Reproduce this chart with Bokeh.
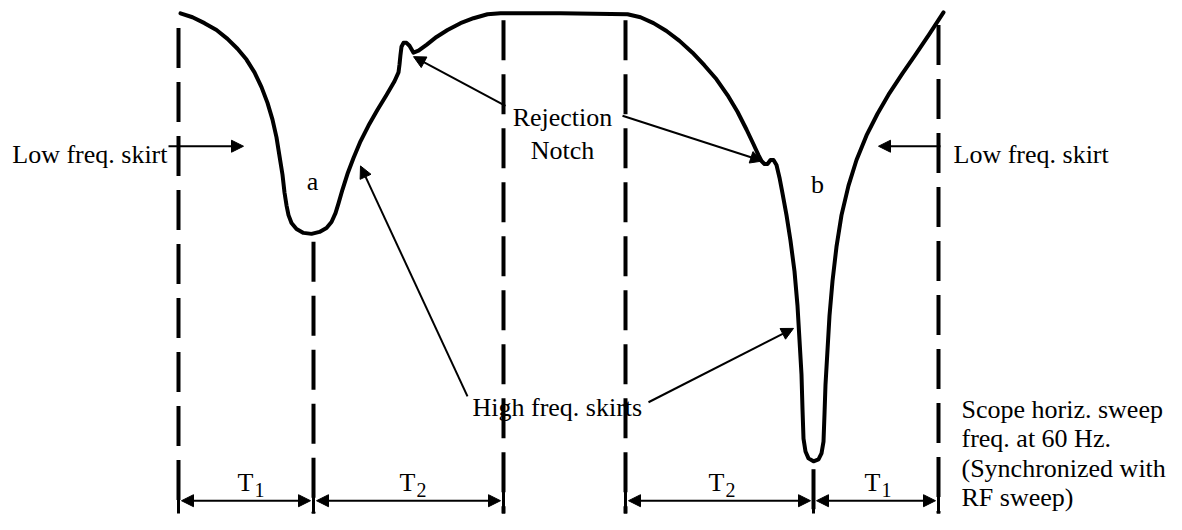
from bokeh.plotting import figure
from bokeh.models import Range1d, Arrow, NormalHead
from bokeh.core.properties import value
from bokeh.embed import file_html
from bokeh.resources import INLINE

# ---- data (screen-pixel frame of the reference) ----
curve_x = [180, 192, 204, 216, 227, 237, 246, 254, 261, 267, 272, 276, 279, 282, 284, 286,
           288, 291, 296, 303, 311, 319, 326, 331, 335, 338, 342, 347, 353, 360, 368, 377,
           386, 394, 398, 399, 400, 401, 403, 406, 409, 413, 418, 426, 436, 447, 460, 473,
           487, 500, 560, 627, 640, 653, 666, 679, 692, 704, 716, 727, 737, 746, 753, 758,
           761, 764, 767, 770, 773, 776, 779, 782, 786, 790, 794, 797, 799, 801, 802, 803,
           805, 808, 813, 818, 821, 823, 824, 825, 827, 829, 832, 836, 841, 848, 856, 866,
           877, 889, 902, 915, 929, 943]
curve_y = [13, 17, 23, 30, 39, 49, 60, 73, 88, 104, 121, 139, 158, 177, 195, 208,
           218, 226, 232, 236, 237, 235, 231, 225, 216, 206, 192, 176, 160, 143, 127, 111,
           96, 82, 73, 65, 55, 47, 43, 43, 46, 53, 51, 45, 37, 30, 23, 18,
           14, 13, 13, 14, 17, 23, 31, 41, 53, 66, 80, 96, 113, 131, 146, 157,
           163, 166, 166, 162, 162, 167, 180, 196, 218, 244, 275, 310, 345, 380, 415, 445,
           458, 465, 468, 466, 460, 448, 420, 390, 355, 320, 285, 250, 218, 188, 162, 137,
           115, 94, 74, 55, 34, 12]

boundaries = [178, 313, 503, 625, 813, 938]
intervals = [(0, 1), (1, 2), (3, 4), (4, 5)]
interval_main = ["T", "T", "T", "T"]
interval_sub = ["1", "2", "2", "1"]
dip_labels = ["a", "b"]
scope_lines = ["Scope horiz. sweep", "freq. at 60 Hz.", "(Synchronized with", "RF sweep)"]

# ---- layout ----
FONT = value("Liberation Serif")
FS = value("26px")

p = figure(width=1166, height=514, x_range=Range1d(0, 1166), y_range=Range1d(522, 0),
           output_backend="svg", toolbar_location=None, x_axis_type=None, y_axis_type=None,
           min_border=0)
p.grid.visible = False
p.outline_line_color = None
p.background_fill_color = "white"

# dashed vertical markers
tops = [28, 245, 20, 20, 476, 25]
p.segment(x0=boundaries, y0=tops, x1=boundaries, y1=[521] * 6,
          line_width=4, line_color="black", line_dash="40 14")
p.segment(x0=boundaries, y0=[484] * 6, x1=boundaries, y1=[521] * 6,
          line_width=3, line_color="black")

# response curve
p.line(curve_x, curve_y, line_width=4, line_color="black", line_join="round", line_cap="round")

def arrow(x0, y0, x1, y1, both=False, size=12):
    a = Arrow(x_start=x0, y_start=y0, x_end=x1, y_end=y1, line_width=2, line_color="black",
              end=NormalHead(size=size, fill_color="black", line_color="black", line_width=1),
              start=(NormalHead(size=size, fill_color="black", line_color="black", line_width=1)
                     if both else None))
    p.add_layout(a)

# interval arrows at bottom
for i0, i1 in intervals:
    arrow(boundaries[i0] + 3, 508, boundaries[i1] - 3, 508, both=True)

# annotation arrows
arrow(168, 148, 243, 148)
arrow(940, 148, 878, 148)
arrow(505, 107, 413, 57)
arrow(622, 117, 762, 163)
arrow(467, 402, 360, 168)
arrow(648, 408, 793, 333)

# interval labels
tx = [245, 407, 716, 872]
p.text(x=tx, y=[490] * 4, text=interval_main, text_font=FONT, text_font_size=FS,
       text_align="center", text_baseline="alphabetic", text_color="black")
p.text(x=[t + 14 for t in tx], y=[497] * 4, text=interval_sub, text_font=FONT,
       text_font_size=value("20px"), text_align="center", text_baseline="alphabetic",
       text_color="black")

# labels
p.text(x=[312, 817], y=[184, 187], text=dip_labels, text_font=FONT, text_font_size=FS,
       text_align="center", text_baseline="alphabetic", text_color="black")
p.text(x=[167], y=[156], text=["Low freq. skirt"], text_font=FONT, text_font_size=FS,
       text_align="right", text_baseline="alphabetic", text_color="black")
p.text(x=[953], y=[156], text=["Low freq. skirt"], text_font=FONT, text_font_size=FS,
       text_align="left", text_baseline="alphabetic", text_color="black")
p.text(x=[562, 562], y=[119, 152], text=["Rejection", "Notch"], text_font=FONT,
       text_font_size=FS, text_align="center", text_baseline="alphabetic", text_color="black")
p.text(x=[472], y=[413], text=["High freq. skirts"], text_font=FONT, text_font_size=FS,
       text_align="left", text_baseline="alphabetic", text_color="black")
p.text(x=[961] * 4, y=[415, 445, 475, 505], text=scope_lines, text_font=FONT,
       text_font_size=FS, text_align="left", text_baseline="alphabetic", text_color="black")

open("out.html", "w").write(file_html(p, INLINE))
